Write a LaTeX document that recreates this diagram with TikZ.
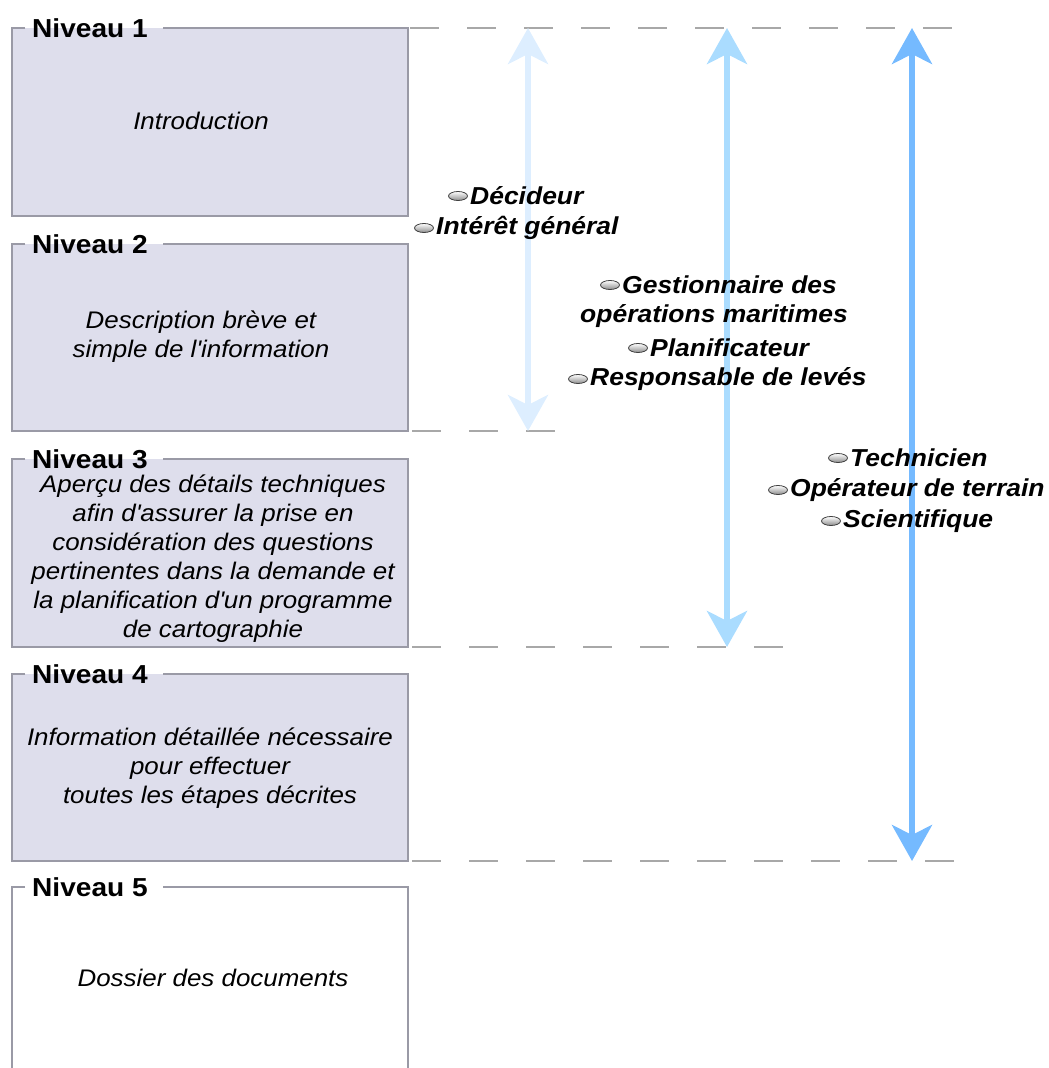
\documentclass[tikz,border=0pt]{standalone}
\usepackage{fontspec}
\setmainfont{Liberation Sans}[FakeStretch=1.08]
\usetikzlibrary{arrows.meta,calc,shapes.geometric}
\definecolor{boxfill}{HTML}{DEDEEC}
\definecolor{boxline}{HTML}{9A9AA6}
\definecolor{dashc}{HTML}{A8A8A8}
\definecolor{arrA}{HTML}{DDEEFF}
\definecolor{arrB}{HTML}{AADCFF}
\definecolor{arrC}{HTML}{75BAFF}
\begin{document}
\begin{tikzpicture}[x=1pt,y=-1pt,
  box/.style={minimum width=396pt, anchor=north west, inner sep=0pt},
  border/.style={draw=boxline, line width=2pt},
  lvl/.style={font=\fontsize{26}{30}\selectfont\bfseries, anchor=west, inner sep=0pt},
  body/.style={font=\fontsize{24}{29}\selectfont\itshape, align=center},
  dashline/.style={draw=dashc, line width=2pt, dash pattern=on 29pt off 28pt},
  dbl/.style={line width=6pt, {Stealth[length=36pt,width=40pt,inset=10pt]}-{Stealth[length=36pt,width=40pt,inset=10pt]}},
  role/.style={font=\fontsize{24.5}{29}\selectfont\bfseries\itshape, anchor=west, inner sep=0pt},
  bul/.style={ellipse, minimum width=19pt, minimum height=9pt, inner sep=0pt, draw=black!75, line width=0.8pt, top color=white, bottom color=black!45}
]
\useasboundingbox (0,0) rectangle (1049,1068);
\clip (0,0) rectangle (1049,1068);

% boxes
\node[box, fill=boxfill, minimum height=188pt] (n1) at (12,28) {};
\node[box, fill=boxfill, minimum height=187pt] (n2) at (12,244) {};
\node[box, fill=boxfill, minimum height=188pt] (n3) at (12,459) {};
\node[box, fill=boxfill, minimum height=187pt] (n4) at (12,674) {};
\node[box, minimum height=200pt] (n5) at (12,887) {};

\foreach \i in {1,...,5}{
  \node[lvl] (l\i) at (32,0 |- n\i.north) {Niveau \i};
  \draw[border] ([xshift=-7pt]l\i.west |- n\i.north) -| (n\i.south west) -| (n\i.north east) -- ([xshift=15pt]l\i.east |- n\i.north);
}

% box texts
\node[body] (t1) at (201,121) {Introduction};
\node[body] (t2) at (201,337) {Description brève et\\simple de l\textquotesingle information};
\node[body] (t3) at (213,559) {Aperçu des détails techniques\\afin d\textquotesingle assurer la prise en\\considération des questions\\pertinentes dans la demande et\\la planification d\textquotesingle un programme\\de cartographie};
\node[body] (t4) at (210,768) {Information détaillée nécessaire\\pour effectuer\\toutes les étapes décrites};
\node[body] (t5) at (213,978) {Dossier des documents};

% dashed guide lines
\coordinate (g1a) at (410,28);  \coordinate (g1b) at (956,28);
\coordinate (g2a) at (412,431); \coordinate (g2b) at (560,431);
\coordinate (g3a) at (412,647); \coordinate (g3b) at (792,647);
\coordinate (g4a) at (412,861); \coordinate (g4b) at (960,861);
\draw[dashline] (g1a) -- (g1b);
\draw[dashline] (g2a) -- (g2b);
\draw[dashline] (g3a) -- (g3b);
\draw[dashline] (g4a) -- (g4b);

% double arrows
\coordinate (a1t) at (528,28);  \coordinate (a1b) at (528,431);
\coordinate (a2t) at (727,28);  \coordinate (a2b) at (727,647);
\coordinate (a3t) at (912,28);  \coordinate (a3b) at (912,861);
\draw[dbl, draw=arrA, fill=arrA] (a1t) -- (a1b);
\draw[dbl, draw=arrB, fill=arrB] (a2t) -- (a2b);
\draw[dbl, draw=arrC, fill=arrC] (a3t) -- (a3b);

% roles
\node[role] (r1) at (470,196) {Décideur};
\node[role] (r2) at (436,228) {Intérêt général};
\node[role] (r3) at (622,285) {Gestionnaire des};
\node[role] (r3b) at (580,316) {opérations maritimes};
\node[role] (r4) at (650,348) {Planificateur};
\node[role] (r5) at (590,379) {Responsable de levés};
\node[role] (r6) at (850,458) {Technicien};
\node[role] (r7) at (790,490) {Opérateur de terrain};
\node[role] (r8) at (843,521) {Scientifique};
\foreach \r in {r1,r2,r3,r4,r5,r6,r7,r8}{
  \node[bul] (b\r) at ([xshift=-12pt]\r.west) {};
}
\end{tikzpicture}
\end{document}
